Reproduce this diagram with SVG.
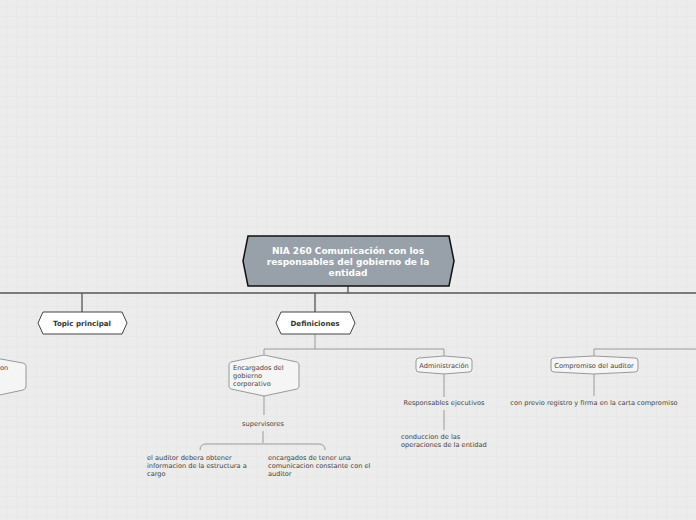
<svg xmlns="http://www.w3.org/2000/svg" width="696" height="520" viewBox="0 0 696 520">
<defs>
<pattern id="grid" width="10" height="10" patternUnits="userSpaceOnUse" x="7" y="7">
<rect width="10" height="10" fill="#ececec"/>
<path d="M10 0V10M0 10H10" fill="none" stroke="#e4e4e4" stroke-width="1"/>
</pattern>
<style>
.t{font-family:"DejaVu Sans",sans-serif;fill:#444;font-size:6.6px}
.b{font-family:"DejaVu Sans",sans-serif;font-weight:bold;fill:#333;font-size:7.1px}
.m{font-family:"DejaVu Sans",sans-serif;font-weight:bold;fill:#fff;font-size:9px}
.main{stroke:#555;stroke-width:1.3;fill:none}
.sub{stroke:#999;stroke-width:1;fill:none}
.hex{fill:#fff;stroke:#444;stroke-width:1}
.box{fill:#f5f5f5;stroke:#999;stroke-width:1}
</style>
</defs>
<rect width="696" height="520" fill="url(#grid)"/>
<g id="connectors">
<path class="main" d="M348 286V293M0 293H696M82 293V312M315 293V312"/>
<path class="sub" d="M315 334V349M264 349H444M264 349V355M444 349V356M594 349H696M594 349V356"/>
<path class="sub" d="M264 396V415M263 431V443M200 450Q200 444 206 444H319Q325 444 325 450"/>
<path class="sub" d="M444 374V397M444 410V430M594 374V396"/>
</g>
<g id="main">
<polygon points="243,261 248,236 449,236 454,261 449,286 248,286" fill="#98a1aa" stroke="#111" stroke-width="1.5"/>
<text class="m" text-anchor="middle" x="348" y="254">NIA 260 Comunicación con los</text>
<text class="m" text-anchor="middle" x="348" y="265">responsables del gobierno de la</text>
<text class="m" text-anchor="middle" x="348" y="276">entidad</text>
</g>
<g id="topic">
<polygon class="hex" points="38,323 43,312 122,312 127,323 122,334 43,334"/>
<text class="b" text-anchor="middle" x="82" y="325.5">Topic principal</text>
</g>
<g id="definiciones">
<polygon class="hex" points="276,323 281,312 350,312 355,323 350,334 281,334"/>
<text class="b" text-anchor="middle" x="315" y="325.5">Definiciones</text>
</g>
<g id="left-partial">
<path class="box" d="M-5 358L23 363Q26 364 26 366V386Q26 389 23 390L-5 396Z"/>
<text class="t" x="0" y="370">on</text>
</g>
<g id="encargados">
<path class="box" d="M264 355L297 362Q299 363 299 365V386Q299 388 297 389L264 396L231 389Q229 388 229 386V365Q229 363 231 362Z"/>
<text class="t" x="233" y="370">Encargados del</text>
<text class="t" x="233" y="378">gobierno</text>
<text class="t" x="233" y="386">corporativo</text>
</g>
<g id="supervisores">
<text class="t" text-anchor="middle" x="263" y="426">supervisores</text>
</g>
<g id="auditor-info">
<text class="t" x="147" y="460">el auditor debera obtener</text>
<text class="t" x="147" y="468">informacion de la estructura a</text>
<text class="t" x="147" y="476">cargo</text>
</g>
<g id="encargados-tener">
<text class="t" x="268" y="460">encargados de tener una</text>
<text class="t" x="268" y="468">comunicacion constante con el</text>
<text class="t" x="268" y="476">auditor</text>
</g>
<g id="administracion">
<path class="box" d="M444 356L469 358Q472 358 472 361V369Q472 372 469 372L444 374L419 372Q416 372 416 369V361Q416 358 419 358Z"/>
<text class="t" text-anchor="middle" x="444" y="367.5">Administración</text>
</g>
<g id="responsables">
<text class="t" text-anchor="middle" x="444" y="405">Responsables ejecutivos</text>
</g>
<g id="conduccion">
<text class="t" x="401" y="439">conduccion de las</text>
<text class="t" x="401" y="447">operaciones de la entidad</text>
</g>
<g id="compromiso">
<path class="box" d="M594 356L635 358Q638 358 638 361V369Q638 372 635 372L594 374L554 372Q551 372 551 369V361Q551 358 554 358Z"/>
<text class="t" text-anchor="middle" x="594" y="367.5">Compromiso del auditor</text>
</g>
<g id="registro">
<text class="t" text-anchor="middle" x="594" y="405">con previo registro y firma en la carta compromiso</text>
</g>
</svg>
